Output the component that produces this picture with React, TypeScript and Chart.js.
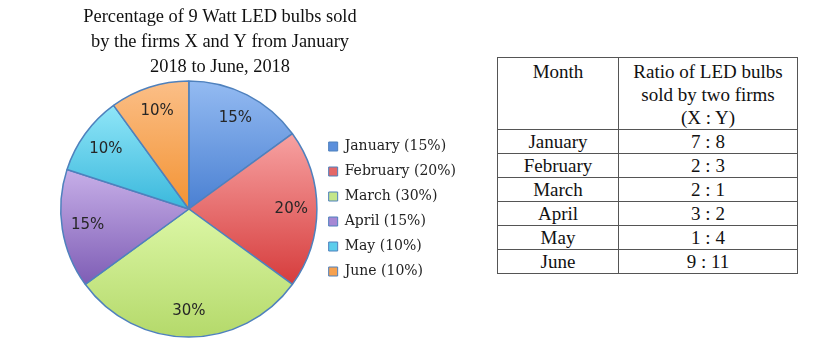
import React, { useEffect, useRef } from 'react';
import { Chart, registerables } from 'chart.js';

Chart.register(...registerables);

const titleLines = [
  'Percentage of 9 Watt LED bulbs sold',
  'by the firms X and Y from January',
  '2018 to June, 2018',
];
const months = ['January', 'February', 'March', 'April', 'May', 'June'];
const shares = [15, 20, 30, 15, 10, 10];
const topColors = ['#94bbf2', '#f7a2a2', '#dcf7a6', '#c7afe8', '#90e6f8', '#fbbf88'];
const bottomColors = ['#4a80d2', '#d63c3c', '#b4d96a', '#7e5db5', '#3ab8dc', '#f39333'];
const legendColors = ['#5b8fdc', '#e46767', '#c4e68a', '#a688d4', '#5ccdec', '#f6a14f'];
const borderColor = '#4f81bd';

const tableHeaders = ['Month', ['Ratio of LED bulbs', 'sold by two firms', '(X : Y)']];
const ratioX = [7, 2, 2, 3, 1, 9];
const ratioY = [8, 3, 1, 2, 4, 11];

function sliceGradient(context: any) {
  const chart = context.chart;
  const area = chart.chartArea;
  const i = context.dataIndex;
  if (!area || i === undefined) return legendColors[i ?? 0];
  const total = shares.reduce((a, b) => a + b, 0);
  let before = 0;
  for (let k = 0; k < i; k++) before += shares[k];
  const a0 = -Math.PI / 2 + (before / total) * 2 * Math.PI;
  const a1 = a0 + (shares[i] / total) * 2 * Math.PI;
  const cy = (area.top + area.bottom) / 2;
  const r = Math.min(area.width, area.height) / 2;
  let minY = cy;
  let maxY = cy;
  for (let s = 0; s <= 48; s++) {
    const a = a0 + ((a1 - a0) * s) / 48;
    const y = cy + r * Math.sin(a);
    minY = Math.min(minY, y);
    maxY = Math.max(maxY, y);
  }
  const g = chart.ctx.createLinearGradient(0, minY, 0, maxY);
  g.addColorStop(0, topColors[i]);
  g.addColorStop(1, bottomColors[i]);
  return g;
}

const sliceLabels = {
  id: 'sliceLabels',
  afterDatasetsDraw(chart: any) {
    const meta = chart.getDatasetMeta(0);
    const c = chart.ctx;
    c.save();
    c.font = '15px "DejaVu Sans", sans-serif';
    c.fillStyle = '#262626';
    c.textAlign = 'center';
    c.textBaseline = 'middle';
    meta.data.forEach((arc: any, i: number) => {
      const { x, y, startAngle, endAngle, outerRadius } = arc.getProps(
        ['x', 'y', 'startAngle', 'endAngle', 'outerRadius'],
        true
      );
      const mid = (startAngle + endAngle) / 2;
      const d = outerRadius * 0.8;
      c.fillText(shares[i] + '%', x + Math.cos(mid) * d, y + Math.sin(mid) * d);
    });
    c.restore();
  },
};

function PieChart() {
  const ref = useRef<HTMLCanvasElement | null>(null);
  useEffect(() => {
    if (!ref.current) return;
    const chart = new Chart(ref.current, {
      type: 'pie',
      data: {
        labels: months,
        datasets: [
          {
            data: shares,
            backgroundColor: sliceGradient as any,
            borderColor: borderColor,
            borderWidth: 1.5,
          },
        ],
      },
      options: {
        animation: false,
        responsive: false,
        maintainAspectRatio: false,
        layout: { padding: { top: 0, bottom: 7, left: 0, right: 0 } },
        plugins: {
          title: {
            display: true,
            text: titleLines,
            color: '#111',
            fullSize: true,
            font: { family: '"Liberation Serif", serif', size: 18.4, weight: 'normal', lineHeight: 25 / 18.4 },
            padding: { top: 5, bottom: 0 },
          },
          subtitle: {
            display: true,
            position: 'left',
            text: ' ',
            fullSize: false,
            font: { size: 10, lineHeight: 1 },
            padding: { top: 0, bottom: 76 },
          },
          legend: {
            position: 'right',
            fullSize: false,
            maxWidth: 170,
            labels: {
              boxWidth: 9,
              boxHeight: 9,
              padding: 11,
              color: '#222',
              font: { family: '"DejaVu Serif", serif', size: 14 },
              generateLabels: () =>
                months.map((m, i) => ({
                  text: `${m} (${shares[i]}%)`,
                  fillStyle: legendColors[i],
                  strokeStyle: borderColor,
                  lineWidth: 1,
                  hidden: false,
                  index: i,
                  fontColor: '#222',
                })),
            },
          },
          tooltip: { enabled: false },
        },
      } as any,
      plugins: [sliceLabels],
    });
    return () => chart.destroy();
  }, []);
  return (
    <canvas
      ref={ref}
      width={492}
      height={345}
      style={{ position: 'absolute', left: -26, top: 0, width: 492, height: 345 }}
    />
  );
}

const cell: React.CSSProperties = {
  border: '1px solid #555',
  padding: '0 2px',
  textAlign: 'center',
  lineHeight: '23px',
  fontWeight: 'normal',
};

export default function App() {
  return (
    <div style={{ position: 'absolute', left: 0, top: 0, width: 820, height: 345, background: '#fff', overflow: 'hidden' }}>
      <PieChart />
      <table
        style={{
          position: 'absolute',
          left: 497,
          top: 57,
          width: 300,
          borderCollapse: 'collapse',
          tableLayout: 'fixed',
          fontFamily: '"Liberation Serif", serif',
          fontSize: 19,
          color: '#111',
        }}
      >
        <colgroup>
          <col style={{ width: 121 }} />
          <col style={{ width: 179 }} />
        </colgroup>
        <thead>
          <tr style={{ height: 70 }}>
            <th style={{ ...cell, verticalAlign: 'top', paddingTop: 2 }}>{tableHeaders[0] as string}</th>
            <th style={{ ...cell, verticalAlign: 'top', paddingTop: 2 }}>
              {(tableHeaders[1] as string[]).map((line, k) => (
                <div key={k}>{line}</div>
              ))}
            </th>
          </tr>
        </thead>
        <tbody>
          {months.map((m, i) => (
            <tr key={m} style={{ height: 24 }}>
              <td style={{ ...cell, lineHeight: '22px' }}>{m}</td>
              <td style={{ ...cell, lineHeight: '22px' }}>{`${ratioX[i]} : ${ratioY[i]}`}</td>
            </tr>
          ))}
        </tbody>
      </table>
    </div>
  );
}
